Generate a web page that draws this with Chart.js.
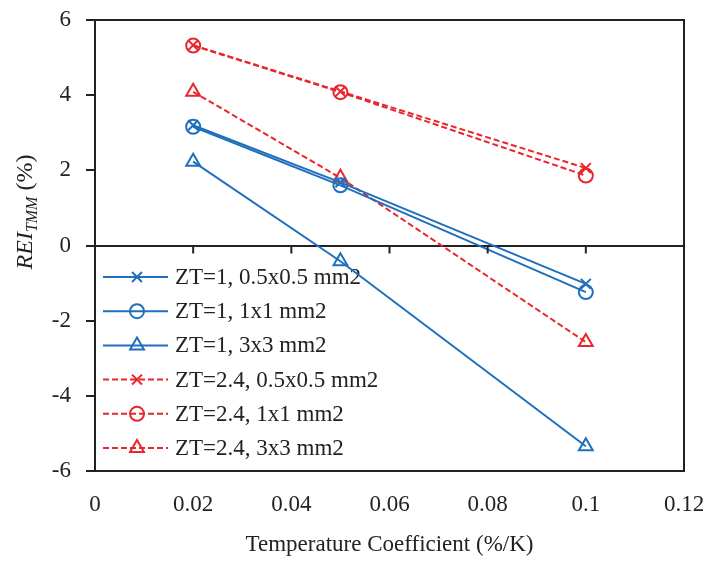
<!DOCTYPE html>
<html>
<head>
<meta charset="utf-8">
<script src="https://cdn.jsdelivr.net/npm/chart.js@4.4.1/dist/chart.umd.min.js"></script>
<style>
  html, body { margin: 0; padding: 0; background: #fff; }
  #wrap { width: 710px; height: 565px; }
</style>
</head>
<body>
<div id="wrap"><canvas id="chart" width="710" height="565"></canvas></div>
<script>
// data
const coeffs = [0.02, 0.05, 0.1];
const zt1_05 = [3.2, 1.68, -1.02];
const zt1_1 = [3.16, 1.6, -1.24];
const zt1_3 = [2.23, -0.42, -5.34];
const zt24_05 = [5.33, 4.1, 2.06];
const zt24_1 = [5.32, 4.08, 1.86];
const zt24_3 = [4.09, 1.8, -2.57];
const seriesNames = ['ZT=1, 0.5x0.5 mm2', 'ZT=1, 1x1 mm2', 'ZT=1, 3x3 mm2',
    'ZT=2.4, 0.5x0.5 mm2', 'ZT=2.4, 1x1 mm2', 'ZT=2.4, 3x3 mm2'];

const BLUE = '#1f6fbe';
const RED = '#e8262c';
const SERIF = "'Liberation Serif', 'Times New Roman', serif";

function pts(ys) {
    return coeffs.map((x, i) => ({x: x, y: ys[i]}));
}

function ds(label, ys, color, style, dashed) {
    return {
        label: label,
        data: pts(ys),
        borderColor: color,
        borderWidth: 2,
        borderDash: dashed ? [6, 3] : [],
        pointStyle: style,
        pointRadius: style === 'triangle' ? 8 : 7,
        pointBorderWidth: 2,
        pointBorderColor: color,
        pointBackgroundColor: 'rgba(0,0,0,0)',
        showLine: true,
        fill: false
    };
}

// box + ticks on the zero line
const frame = {
    id: 'frame',
    afterDatasetsDraw(chart) {
        const c = chart.ctx, a = chart.chartArea;
        const xs = chart.scales.x, ys = chart.scales.y;
        c.save();
        c.strokeStyle = '#222';
        c.lineWidth = 2;
        c.beginPath();
        c.moveTo(a.left, a.top);
        c.lineTo(a.right, a.top);
        c.lineTo(a.right, a.bottom);
        c.stroke();
        const y0 = ys.getPixelForValue(0);
        xs.ticks.forEach(t => {
            const px = xs.getPixelForValue(t.value);
            c.beginPath();
            c.moveTo(px, y0);
            c.lineTo(px, y0 + 8);
            c.stroke();
        });
        c.restore();
    }
};

// legend with line + marker samples, inside the plot
const inLegend = {
    id: 'inLegend',
    beforeDatasetsDraw(chart) {
        const c = chart.ctx;
        c.save();
        c.font = '23px ' + SERIF;
        c.textBaseline = 'middle';
        chart.data.datasets.forEach((d, i) => {
            const y = 277 + i * 34.2;
            c.strokeStyle = d.borderColor;
            c.lineWidth = 2;
            c.setLineDash(d.borderDash);
            c.beginPath();
            c.moveTo(103, y);
            c.lineTo(168, y);
            c.stroke();
            c.setLineDash([]);
            c.fillStyle = 'rgba(0,0,0,0)';
            c.strokeStyle = d.borderColor;
            Chart.helpers.drawPoint(c, {
                pointStyle: d.pointStyle,
                radius: d.pointRadius,
                borderWidth: 2
            }, 137, y);
            c.fillStyle = '#222';
            c.fillText(d.label, 175, y + 1);
        });
        c.restore();
    }
};

// y axis title with subscript
const yTitle = {
    id: 'yTitle',
    afterDraw(chart) {
        const c = chart.ctx;
        c.save();
        c.translate(24, 212);
        c.rotate(-Math.PI / 2);
        c.fillStyle = '#222';
        c.textBaseline = 'alphabetic';
        const parts = [
            {t: 'REI', f: 'italic 24px ' + SERIF, dy: 0},
            {t: 'TMM', f: 'italic 16px ' + SERIF, dy: 5},
            {t: ' (%)', f: '24px ' + SERIF, dy: 0}
        ];
        let w = 0;
        parts.forEach(p => { c.font = p.f; w += c.measureText(p.t).width; });
        let x = -w / 2;
        parts.forEach(p => {
            c.font = p.f;
            c.fillText(p.t, x, 8 + p.dy);
            x += c.measureText(p.t).width;
        });
        c.restore();
    }
};

new Chart(document.getElementById('chart').getContext('2d'), {
    type: 'scatter',
    data: {
        datasets: [
            ds(seriesNames[0], zt1_05, BLUE, 'crossRot', false),
            ds(seriesNames[1], zt1_1, BLUE, 'circle', false),
            ds(seriesNames[2], zt1_3, BLUE, 'triangle', false),
            ds(seriesNames[3], zt24_05, RED, 'crossRot', true),
            ds(seriesNames[4], zt24_1, RED, 'circle', true),
            ds(seriesNames[5], zt24_3, RED, 'triangle', true)
        ]
    },
    options: {
        responsive: false,
        animation: false,
        layout: {padding: {top: 20, right: 26, left: 0, bottom: 0}},
        scales: {
            x: {
                type: 'linear',
                min: 0,
                max: 0.12,
                ticks: {
                    stepSize: 0.02,
                    color: '#222',
                    padding: 20,
                    font: {family: SERIF, size: 23},
                    callback: v => String(parseFloat(v.toFixed(2)))
                },
                grid: {display: false, drawTicks: false},
                border: {display: true, color: '#222', width: 2},
                title: {
                    display: true,
                    text: 'Temperature Coefficient (%/K)',
                    color: '#222',
                    font: {family: SERIF, size: 23},
                    padding: {top: 0, bottom: 6}
                },
                afterFit: s => { s.height = 94; s.paddingLeft = 0; s.paddingRight = 0; }
            },
            y: {
                min: -6,
                max: 6,
                ticks: {
                    stepSize: 2,
                    color: '#222',
                    padding: 15,
                    font: {family: SERIF, size: 23}
                },
                grid: {
                    color: c => (c.tick && c.tick.value === 0) ? '#222' : 'rgba(0,0,0,0)',
                    lineWidth: 2,
                    tickColor: '#222',
                    tickLength: 9,
                    tickWidth: 2
                },
                border: {display: true, color: '#222', width: 2},
                afterFit: s => { s.width = 95; s.paddingTop = 0; s.paddingBottom = 0; }
            }
        },
        plugins: {
            legend: {display: false},
            tooltip: {enabled: false}
        }
    },
    plugins: [frame, inLegend, yTitle]
});
</script>
</body>
</html>
